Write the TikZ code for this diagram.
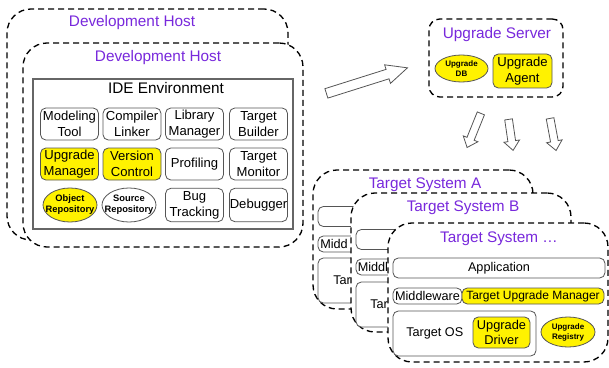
\documentclass[tikz,border=0pt]{standalone}
\usepackage{fontspec}
\setmainfont{Liberation Sans}
\usepackage{tikz}
\usetikzlibrary{shapes.geometric,shapes.arrows}
\definecolor{hostpurple}{RGB}{120,40,220}
\definecolor{boxgray}{RGB}{85,85,85}

\begin{document}
\begin{tikzpicture}[x=0.75pt,y=-0.75pt,
    hostbox/.style={draw,line width=1pt,dash pattern=on 4.5pt off 3pt,rounded corners=18pt,fill=white},
    serverbox/.style={hostbox,rounded corners=8pt},
    hosttitle/.style={text=hostpurple,font=\fontsize{11.5}{13}\selectfont,inner sep=0pt},
    tool/.style={draw=boxgray,line width=0.6pt,rounded corners=4pt,fill=white,align=center,inner sep=0pt,font=\fontsize{9.8}{12}\selectfont},
    upg/.style={tool,fill=yellow},
    repo/.style={ellipse,draw=boxgray,line width=0.6pt,inner sep=0pt},
    repotext/.style={align=center,inner sep=0pt,font=\fontsize{7}{8.3}\selectfont\bfseries},
    smalltext/.style={repotext,font=\fontsize{6}{7.5}\selectfont\bfseries},
    layertext/.style={inner sep=0pt,anchor=west,font=\fontsize{9.5}{11}\selectfont},
    bigarrow/.style={single arrow,draw=boxgray,line width=0.6pt,fill=white,inner xsep=0pt,inner ysep=3.4pt,single arrow head extend=3.6pt,single arrow tip angle=50,anchor=tail},
    downarrow/.style={bigarrow,inner ysep=2.6pt,single arrow head extend=3pt,single arrow tip angle=80}
]
\useasboundingbox (0,0) rectangle (609,367);

% development host
\node [hostbox,minimum width=210.75pt,minimum height=173.25pt] (devB) at (147.5,124.5) {};
\node [hosttitle] (devBt) at (132,23) {Development Host};
\node [hostbox,minimum width=210pt,minimum height=153pt] (dev) at (163,145) {};
\node [hosttitle] (devt) at (158,58) {Development Host};
\node [draw=gray!80!black,line width=0.8pt,minimum width=195pt,minimum height=112.5pt] (ide) at (163,154) {};
\node [inner sep=0pt,font=\fontsize{11.5}{13}\selectfont] (idet) at (166,88) {IDE Environment};

\node [tool,minimum width=43.5pt,minimum height=24pt] (model) at (69.5,124) {Modeling\\Tool};
\node [tool,minimum width=43.5pt,minimum height=24pt] (comp) at (132,124) {Compiler\\Linker};
\node [tool,minimum width=43.5pt,minimum height=24pt] (lib) at (194.5,124) {Library\\Manager};
\node [tool,minimum width=43.5pt,minimum height=24pt] (build) at (258.5,124) {Target\\Builder};
\node [upg,minimum width=43.5pt,minimum height=24pt] (upmgr) at (69.5,164) {Upgrade\\Manager};
\node [upg,minimum width=43.5pt,minimum height=24pt] (vers) at (132,164) {Version\\Control};
\node [tool,minimum width=43.5pt,minimum height=24pt] (prof) at (194.5,164) {Profiling};
\node [tool,minimum width=43.5pt,minimum height=24pt] (mon) at (258.5,164) {Target\\Monitor};
\node [repo,fill=yellow,minimum width=40.5pt,minimum height=25.5pt,label={[repotext]center:Object\\Repository}] (objrep) at (70,205) {};
\node [repo,minimum width=40.5pt,minimum height=25.5pt,label={[repotext]center:Source\\Repository}] (srcrep) at (129,205) {};
\node [tool,minimum width=43.5pt,minimum height=25pt] (bug) at (194.5,205) {Bug\\Tracking};
\node [tool,minimum width=43.5pt,minimum height=25pt] (dbg) at (258.5,205) {Debugger};

% upgrade server
\node [serverbox,minimum width=100.5pt,minimum height=58.5pt] (srv) at (496,58) {};
\node [hosttitle] (srvt) at (497,35) {Upgrade Server};
\node [repo,fill=yellow,minimum width=39.75pt,minimum height=20.25pt,label={[smalltext]center:Upgrade\\DB}] (updb) at (461.5,68.5) {};
\node [upg,minimum width=44.25pt,minimum height=25.5pt] (upagent) at (522.5,71) {Upgrade\\Agent};

\node [bigarrow,rotate=17.5,minimum height=63.75pt] (push) at (326,93.5) {};
\node [downarrow,rotate=-112,minimum height=27.6pt] (downA) at (481,113) {};
\node [downarrow,rotate=-81.7,minimum height=23.5pt] (downB) at (508.5,119) {};
\node [downarrow,rotate=-79.4,minimum height=24.5pt] (downC) at (550,118) {};

% target systems
\node [hostbox,minimum width=165pt,minimum height=104.25pt] (tsA) at (423,239.5) {};
\node [hosttitle] (tsAt) at (425,185) {Target System A};
\node [tool,minimum width=159pt,minimum height=15pt] (appA) at (424,216.5) {};
\node [tool,minimum width=51.75pt,minimum height=12pt] (midA) at (352.5,244) {};
\node [layertext] (midAt) at (320,244) {Midd};
\node [tool,minimum width=107.25pt,minimum height=33.75pt] (osA) at (389.5,280.5) {};
\node [layertext] (osAt) at (333,280) {Tar};

\node [hostbox,minimum width=165pt,minimum height=104.25pt] (tsB) at (461,262.5) {};
\node [hosttitle] (tsBt) at (463,208) {Target System B};
\node [tool,minimum width=159pt,minimum height=15pt] (appB) at (462,239.5) {};
\node [tool,minimum width=51.75pt,minimum height=12pt] (midB) at (390.5,267) {};
\node [layertext] (midBt) at (357.5,267) {Middl};
\node [tool,minimum width=107.25pt,minimum height=33.75pt] (osB) at (427.5,304.5) {};
\node [layertext] (osBt) at (370,304) {Tar};

\node [hostbox,minimum width=165pt,minimum height=104.25pt] (ts) at (498,292.5) {};
\node [hosttitle] (tst) at (499,239) {Target System \dots};
\node [tool,minimum width=159pt,minimum height=15pt,font=\fontsize{9.5}{11}\selectfont] (app) at (499,268) {Application};
\node [tool,minimum width=51.75pt,minimum height=12pt,font=\fontsize{9.5}{11}\selectfont] (mid) at (427.5,296) {Middleware};
\node [upg,minimum width=106.5pt,minimum height=12pt,font=\fontsize{9}{11}\selectfont] (tum) at (533,296) {Target Upgrade Manager};
\node [tool,minimum width=107.25pt,minimum height=33.75pt] (os) at (464.5,333.5) {};
\node [layertext] (ost) at (406,333) {Target OS};
\node [upg,minimum width=42.75pt,minimum height=23.25pt,font=\fontsize{9.6}{11.5}\selectfont] (updrv) at (501.5,332.5) {Upgrade\\Driver};
\node [repo,fill=yellow,minimum width=40.5pt,minimum height=22.5pt,label={[smalltext]center:Upgrade\\Registry}] (upreg) at (568,332) {};
\end{tikzpicture}
\end{document}
